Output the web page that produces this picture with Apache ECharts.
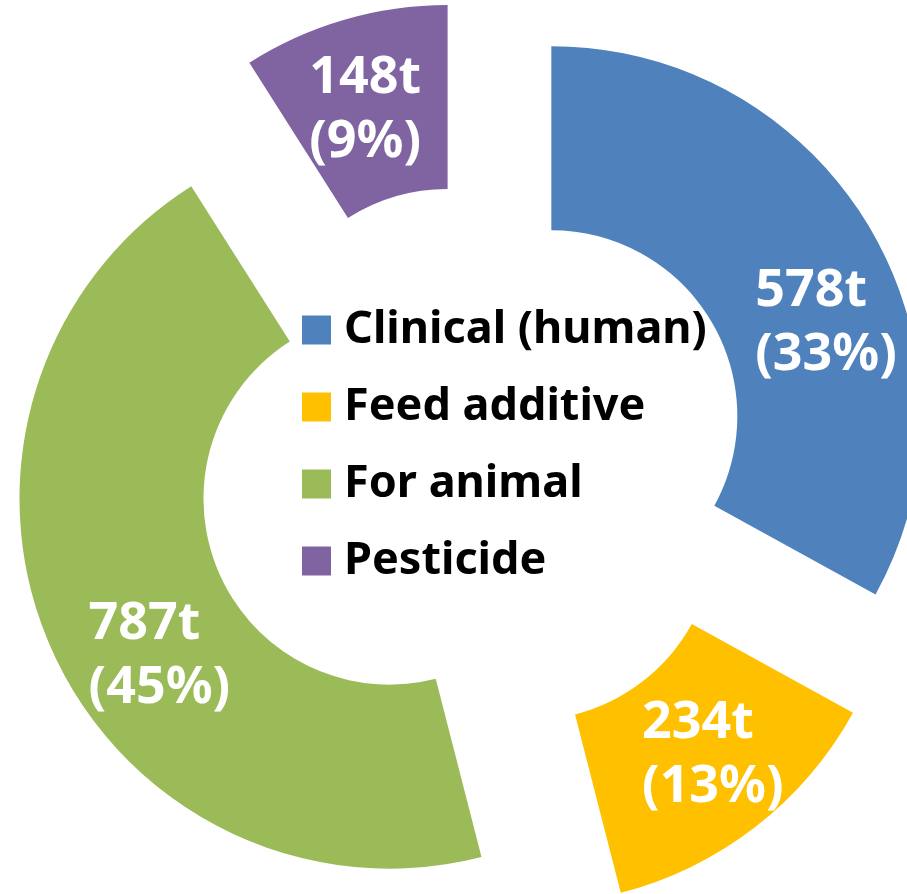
<!DOCTYPE html>
<html>
<head>
<meta charset="utf-8">
<script src="https://cdn.jsdelivr.net/npm/echarts@6/dist/echarts.min.js"></script>
<style>
  html, body { margin: 0; padding: 0; background: #ffffff; }
  #chart { width: 907px; height: 894px; }
</style>
</head>
<body>
<div id="chart"></div>
<script>
// ---- data ----
const categories = ['Clinical (human)', 'Feed additive', 'For animal', 'Pesticide'];
const tonnes = [578, 234, 787, 148];          // label amounts, t
const shares = [33, 13, 45, 9];               // slice shares, %

// ---- styling / layout (kept apart from the data) ----
const colors = ['#4F81BD', '#FFC000', '#9BBB59', '#8064A2'];
const labelNudge = [[-38, 50], [-59, -1], [-43, 46], [-60, 5]];
const FONT = '"Noto Sans", "Open Sans", sans-serif';

const chart = echarts.init(document.getElementById('chart'), null, { renderer: 'canvas' });

const seriesData = categories.map((name, i) => ({
  name: name,
  value: shares[i],
  selected: true,
  itemStyle: { color: colors[i] }
}));

chart.setOption({
  animation: false,
  backgroundColor: '#ffffff',
  legend: {
    orient: 'vertical',
    left: 297,
    top: 296,
    icon: 'rect',
    itemWidth: 29,
    itemHeight: 29,
    itemGap: 19,
    selectedMode: false,
    data: categories,
    textStyle: {
      fontFamily: FONT,
      fontWeight: 'bold',
      fontSize: 45,
      color: '#000000',
      lineHeight: 58,
      padding: [0, 0, 0, 8]
    }
  },
  series: [{
    type: 'pie',
    center: [473, 462.5],
    radius: [186, 370],
    startAngle: 90,
    clockwise: true,
    selectedMode: 'multiple',
    selectedOffset: 91,
    avoidLabelOverlap: false,
    silent: true,
    emphasis: { disabled: true },
    label: {
      show: true,
      position: 'inside',
      color: '#ffffff',
      fontFamily: FONT,
      fontWeight: 'bold',
      fontSize: 52,
      lineHeight: 64,
      formatter: p => tonnes[p.dataIndex] + 't\n(' + shares[p.dataIndex] + '%)'
    },
    labelLayout: p => ({
      dx: labelNudge[p.dataIndex][0],
      dy: labelNudge[p.dataIndex][1],
      align: 'left'
    }),
    labelLine: { show: false },
    data: seriesData
  }]
});
</script>
</body>
</html>
